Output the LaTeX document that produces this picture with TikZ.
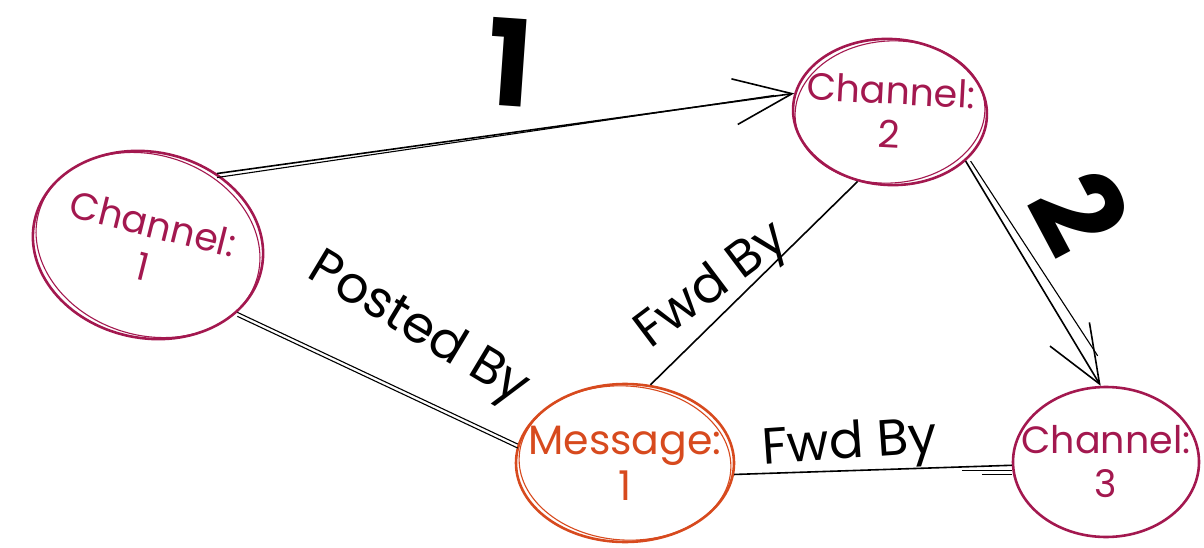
\documentclass[tikz,border=0pt]{standalone}
\usepackage{fontspec}
\setmainfont{Poppins}
\usetikzlibrary{shapes.geometric,arrows.meta}
\definecolor{chan}{HTML}{A3184F}
\definecolor{msg}{HTML}{D74A1E}
\begin{document}
\begin{tikzpicture}[x=1pt,y=-1pt,
  ringnode/.style={ellipse,draw,line width=2.6pt,inner sep=0pt},
  chnode/.style={ringnode,draw=chan},
  msgnode/.style={ringnode,draw=msg},
  ringtext/.style={align=center,inner sep=0pt,font=\fontsize{38}{44}\selectfont},
  chtext/.style={ringtext,text=chan},
  msgtext/.style={ringtext,text=msg,font=\fontsize{41}{46}\selectfont},
  ringextra/.style={line width=1.1pt},
  edge/.style={line width=1.6pt,black},
  thin edge/.style={line width=1.1pt,black},
  arrowtip/.style={-{Straight Barb[length=58pt,width=46pt,line width=1.6pt]}},
  lbl/.style={font=\fontsize{51}{55}\selectfont,inner sep=0pt},
  big/.style={font=\fontsize{120}{120}\selectfont\bfseries,inner sep=0pt}
]
\useasboundingbox (0,0) rectangle (1204,548);

% nodes
\node[chnode,minimum width=232pt,minimum height=186pt,rotate=-12] (c1) at (148,245) {};
\node[chtext,rotate=-14] (c1t) at (c1.center) {Channel:\\1};
\node[chnode,minimum width=194pt,minimum height=146pt,rotate=-3] (c2) at (890,112) {};
\node[chtext,rotate=-3] (c2t) at (c2.center) {Channel:\\2};
\node[msgnode,minimum width=218pt,minimum height=158pt] (m1) at (625,463) {};
\node[msgtext] (m1t) at (m1.center) {Message:\\1};
\node[chnode,minimum width=186pt,minimum height=150pt] (c3) at (1106,462) {};
\node[chtext] (c3t) at (c3.center) {Channel:\\3};

% sketchy second strokes
\draw[chan,ringextra,rotate around={-18:(c1.center)}] (c1.center) ellipse [x radius=114, y radius=90];
\draw[chan,ringextra,rotate around={4:(c2.center)}] (c2.center) ellipse [x radius=95, y radius=71];
\draw[msg,ringextra,rotate around={-4:(m1.center)}] (m1.center) ellipse [x radius=106, y radius=77];

% edge 1 (c1 -> c2)
\draw[edge,arrowtip] (c1.58) -- (c2.172);
\draw[thin edge] ([yshift=-4pt]c1.58) -- ([yshift=-2pt,xshift=-20pt]c2.172);
\node[big,rotate=-4] (l1) at (510,62) {1};

% edge 2 (c2 -> c3)
\draw[edge,arrowtip] (c2.-30) -- (c3.94);
\draw[thin edge] ([xshift=5pt]c2.-30) -- ([xshift=-3pt,yshift=30pt]c3.94);
\node[big,rotate=-62] (l2) at (1080,212) {2};

% Posted By (c1 -- m1)
\draw[thin edge] (c1.-25) -- (m1.170);
\draw[thin edge] ([yshift=-4pt]c1.-25) -- ([yshift=-4pt]m1.170);
\node[lbl,rotate=-31] (pb) at (418,330) {Posted By};

% Fwd By (m1 -- c2)
\draw[edge] (m1.72) -- (c2.-112);
\node[lbl,rotate=37] (fb1) at (713,287) {Fwd By};

% Fwd By (m1 -- c3)
\draw[edge] (m1.-6) -- (c3.182);
\draw[thin edge] ([yshift=-5pt,xshift=-50pt]c3.182) -- ([yshift=-5pt]c3.182);
\draw[thin edge] ([yshift=-9pt,xshift=-30pt]c3.182) -- ([yshift=-9pt]c3.182);
\node[lbl,rotate=4] (fb2) at (850,446) {Fwd By};
\end{tikzpicture}
\end{document}
